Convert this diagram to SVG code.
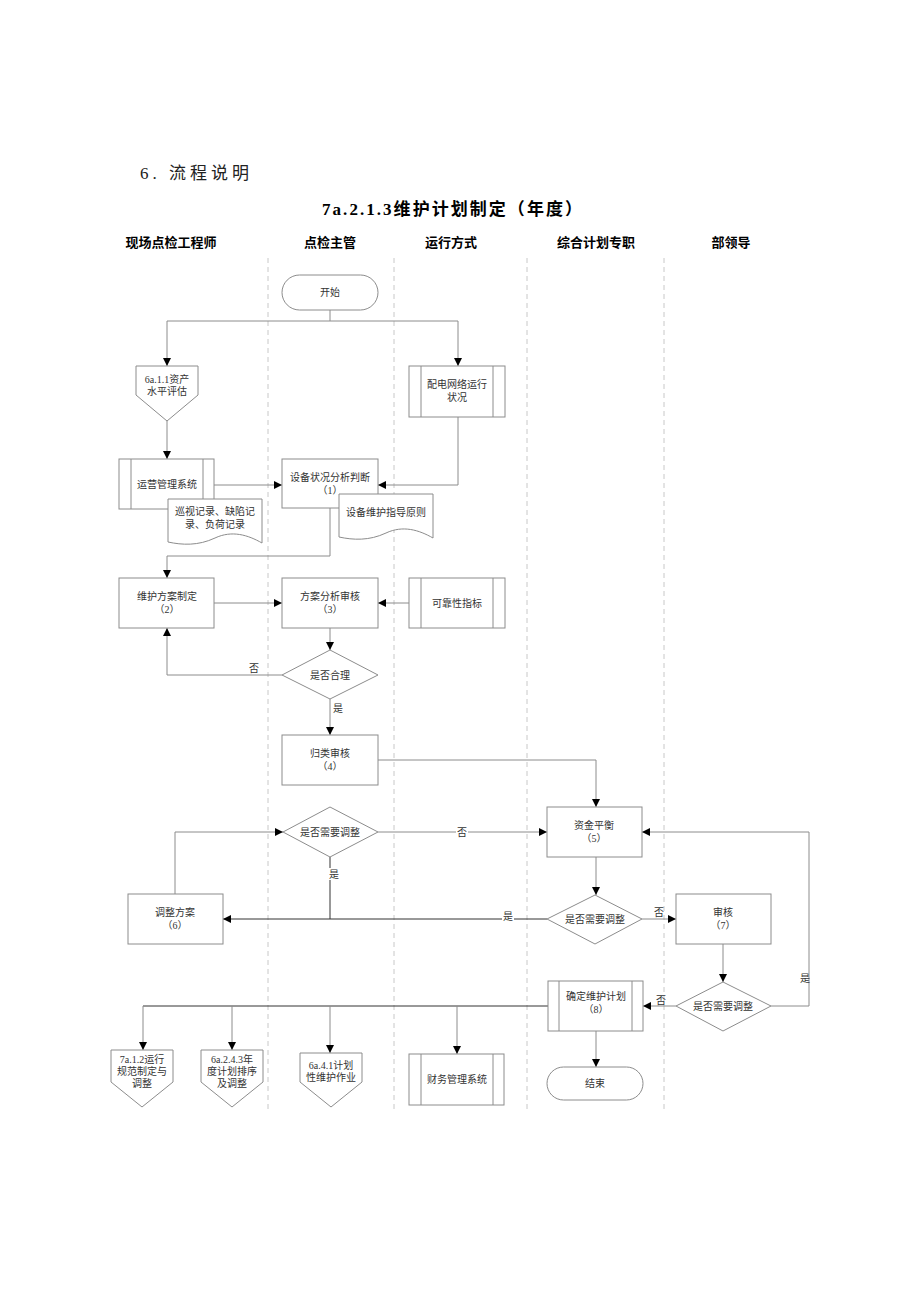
<svg xmlns="http://www.w3.org/2000/svg" width="920" height="1302" viewBox="0 0 920 1302">
<style>
.s{fill:#fff;stroke:#8c8c8c;stroke-width:1}
.l{fill:none;stroke:#8c8c8c;stroke-width:1}
.lk{fill:none;stroke:#333;stroke-width:1}
.lane{stroke:#c8c8c8;stroke-width:1;stroke-dasharray:5,4}
.t{font-family:"Liberation Serif","Noto Sans CJK SC",serif;font-size:10px;fill:#333;text-anchor:middle}
.h{font-family:"Liberation Sans","Noto Sans CJK SC",sans-serif;font-size:13px;font-weight:bold;fill:#000;text-anchor:middle}
</style>
<defs>
<marker id="a" viewBox="0 0 10 10" refX="10" refY="5" markerWidth="8" markerHeight="8" markerUnits="userSpaceOnUse" orient="auto">
<path d="M0,0 L10,5 L0,10 Z" fill="#000"/>
</marker>
</defs>
<rect width="920" height="1302" fill="#fff"/>
<text x="140" y="179" font-family="'Liberation Serif','Noto Sans CJK SC',serif" font-size="17" letter-spacing="4" fill="#222">6. 流程说明</text>
<text x="322" y="215" font-family="'Liberation Serif','Noto Sans CJK SC',serif" font-size="17" font-weight="bold" fill="#000" textLength="260" lengthAdjust="spacing">7a.2.1.3维护计划制定（年度）</text>
<g id="lanes">
<text class="h" x="171" y="247">现场点检工程师</text>
<text class="h" x="330" y="247">点检主管</text>
<text class="h" x="451" y="247">运行方式</text>
<text class="h" x="596" y="247">综合计划专职</text>
<text class="h" x="731" y="247">部领导</text>
<line class="lane" x1="268" y1="258" x2="268" y2="1112"/>
<line class="lane" x1="394" y1="258" x2="394" y2="1112"/>
<line class="lane" x1="527" y1="258" x2="527" y2="1112"/>
<line class="lane" x1="664" y1="258" x2="664" y2="1112"/>
</g>
<g id="connectors">
<polyline class="l" points="330,310 330,321"/>
<polyline class="l" points="167,321 458,321"/>
<polyline class="l" points="167,321 167,366" marker-end="url(#a)"/>
<polyline class="l" points="458,321 458,366" marker-end="url(#a)"/>
<polyline class="l" points="167,421 167,459" marker-end="url(#a)"/>
<polyline class="l" points="214,485 282,485" marker-end="url(#a)"/>
<polyline class="l" points="458,417 458,485 378,485" marker-end="url(#a)"/>
<polyline class="l" points="330,508 330,556 167,556 167,578" marker-end="url(#a)"/>
<polyline class="l" points="214,603 282,603" marker-end="url(#a)"/>
<polyline class="l" points="409,603 378,603" marker-end="url(#a)"/>
<polyline class="l" points="330,628 330,650" marker-end="url(#a)"/>
<polyline class="l" points="282,675 167,675 167,628" marker-end="url(#a)"/>
<polyline class="l" points="330,699 330,735" marker-end="url(#a)"/>
<polyline class="l" points="378,760 596,760 596,807" marker-end="url(#a)"/>
<polyline class="l" points="378,832 547,832" marker-end="url(#a)"/>
<polyline class="l" points="175,894 175,832 283,832" marker-end="url(#a)"/>
<polyline class="lk" points="330,857 330,919"/>
<polyline class="lk" points="547,919 223,919" marker-end="url(#a)"/>
<polyline class="l" points="596,857 596,895" marker-end="url(#a)"/>
<polyline class="l" points="642,919 676,919" marker-end="url(#a)"/>
<polyline class="l" points="723,944 723,982" marker-end="url(#a)"/>
<polyline class="l" points="771,1006 809,1006 809,832 642,832" marker-end="url(#a)"/>
<polyline class="l" points="676,1006 643,1006" marker-end="url(#a)"/>
<polyline class="lk" points="548,1006 143,1006"/>
<polyline class="l" points="143,1006 143,1050" marker-end="url(#a)"/>
<polyline class="l" points="232,1006 232,1050" marker-end="url(#a)"/>
<polyline class="l" points="330,1006 330,1053" marker-end="url(#a)"/>
<polyline class="l" points="457,1006 457,1054" marker-end="url(#a)"/>
<polyline class="l" points="596,1031 596,1067" marker-end="url(#a)"/>
<rect x="248" y="662" width="12" height="12" fill="#fff"/>
<text class="t" x="254" y="672">否</text>
<text class="t" x="338" y="712">是</text>
<rect x="456" y="826" width="12" height="12" fill="#fff"/>
<text class="t" x="462" y="836">否</text>
<rect x="328" y="868" width="12" height="12" fill="#fff"/>
<text class="t" x="334" y="878">是</text>
<rect x="502" y="912" width="12" height="12" fill="#fff"/>
<text class="t" x="508" y="920">是</text>
<text class="t" x="659" y="916">否</text>
<text class="t" x="661" y="1004">否</text>
<text class="t" x="805" y="982">是</text>
</g>
<g id="start"><rect class="s" x="282" y="275" width="96" height="35" rx="17.5"/><text class="t" x="330" y="296">开始</text></g>
<g id="n611"><path class="s" d="M136,366 H198 V395 L167,421 L136,395 Z"/><text class="t" x="167" y="383">6a.1.1资产</text><text class="t" x="167" y="395">水平评估</text></g>
<g id="ops"><rect class="s" x="409" y="366" width="96" height="51"/><line class="l" x1="421" y1="366" x2="421" y2="417"/><line class="l" x1="493" y1="366" x2="493" y2="417"/><text class="t" x="457" y="388">配电网络运行</text><text class="t" x="457" y="401">状况</text></g>
<g id="yy"><rect class="s" x="119" y="459" width="95" height="50"/><line class="l" x1="131" y1="459" x2="131" y2="509"/><line class="l" x1="203" y1="459" x2="203" y2="509"/><text class="t" x="167" y="488">运营管理系统</text></g>
<g id="n1"><rect class="s" x="282" y="459" width="96" height="49"/><text class="t" x="330" y="481">设备状况分析判断</text><text class="t" x="330" y="494">（1）</text></g>
<g id="doc1"><path class="s" d="M168,499 H262 V543 C248,535 232,530 215,538 C198,546 182,545 168,542 Z"/><text class="t" x="215" y="515">巡视记录、缺陷记</text><text class="t" x="215" y="528">录、负荷记录</text></g>
<g id="doc2"><path class="s" d="M339,494 H433 V538 C419,530 403,525 386,533 C369,541 353,540 339,537 Z"/><text class="t" x="386" y="516">设备维护指导原则</text></g>
<g id="n2"><rect class="s" x="119" y="578" width="95" height="50"/><text class="t" x="167" y="600">维护方案制定</text><text class="t" x="167" y="613">（2）</text></g>
<g id="n3"><rect class="s" x="282" y="578" width="96" height="50"/><text class="t" x="330" y="600">方案分析审核</text><text class="t" x="330" y="613">（3）</text></g>
<g id="rel"><rect class="s" x="409" y="578" width="96" height="50"/><line class="l" x1="421" y1="578" x2="421" y2="628"/><line class="l" x1="493" y1="578" x2="493" y2="628"/><text class="t" x="457" y="607">可靠性指标</text></g>
<g id="d1"><path class="s" d="M330,650 L378,675 L330,699 L282,675 Z"/><text class="t" x="330" y="679">是否合理</text></g>
<g id="n4"><rect class="s" x="282" y="735" width="96" height="50"/><text class="t" x="330" y="757">归类审核</text><text class="t" x="330" y="770">（4）</text></g>
<g id="d2"><path class="s" d="M330,807 L378,832 L330,857 L283,832 Z"/><text class="t" x="330" y="836">是否需要调整</text></g>
<g id="n5"><rect class="s" x="547" y="807" width="95" height="50"/><text class="t" x="594" y="829">资金平衡</text><text class="t" x="594" y="842">（5）</text></g>
<g id="n6"><rect class="s" x="128" y="894" width="95" height="50"/><text class="t" x="175" y="916">调整方案</text><text class="t" x="175" y="929">（6）</text></g>
<g id="d3"><path class="s" d="M595,895 L642,919 L595,944 L547,919 Z"/><text class="t" x="595" y="923">是否需要调整</text></g>
<g id="n7"><rect class="s" x="676" y="894" width="95" height="50"/><text class="t" x="723" y="916">审核</text><text class="t" x="723" y="929">（7）</text></g>
<g id="d4"><path class="s" d="M723,982 L771,1006 L723,1031 L676,1006 Z"/><text class="t" x="723" y="1010">是否需要调整</text></g>
<g id="n8"><rect class="s" x="548" y="981" width="95" height="50"/><line class="l" x1="559" y1="981" x2="559" y2="1031"/><line class="l" x1="632" y1="981" x2="632" y2="1031"/><text class="t" x="596" y="1000">确定维护计划</text><text class="t" x="596" y="1013">（8）</text></g>
<g id="p712"><path class="s" d="M111,1050 H173 V1082 L142,1107 L111,1082 Z"/><text class="t" x="142" y="1063">7a.1.2运行</text><text class="t" x="142" y="1075">规范制定与</text><text class="t" x="142" y="1087">调整</text></g>
<g id="p6243"><path class="s" d="M201,1050 H263 V1082 L232,1107 L201,1082 Z"/><text class="t" x="232" y="1063">6a.2.4.3年</text><text class="t" x="232" y="1075">度计划排序</text><text class="t" x="232" y="1087">及调整</text></g>
<g id="p641"><path class="s" d="M300,1053 H362 V1082 L331,1107 L300,1082 Z"/><text class="t" x="331" y="1069">6a.4.1计划</text><text class="t" x="331" y="1081">性维护作业</text></g>
<g id="fin"><rect class="s" x="409" y="1054" width="95" height="51"/><line class="l" x1="421" y1="1054" x2="421" y2="1105"/><line class="l" x1="493" y1="1054" x2="493" y2="1105"/><text class="t" x="457" y="1083">财务管理系统</text></g>
<g id="end"><rect class="s" x="547" y="1067" width="96" height="33" rx="16.5"/><text class="t" x="595" y="1087">结束</text></g>
</svg>
